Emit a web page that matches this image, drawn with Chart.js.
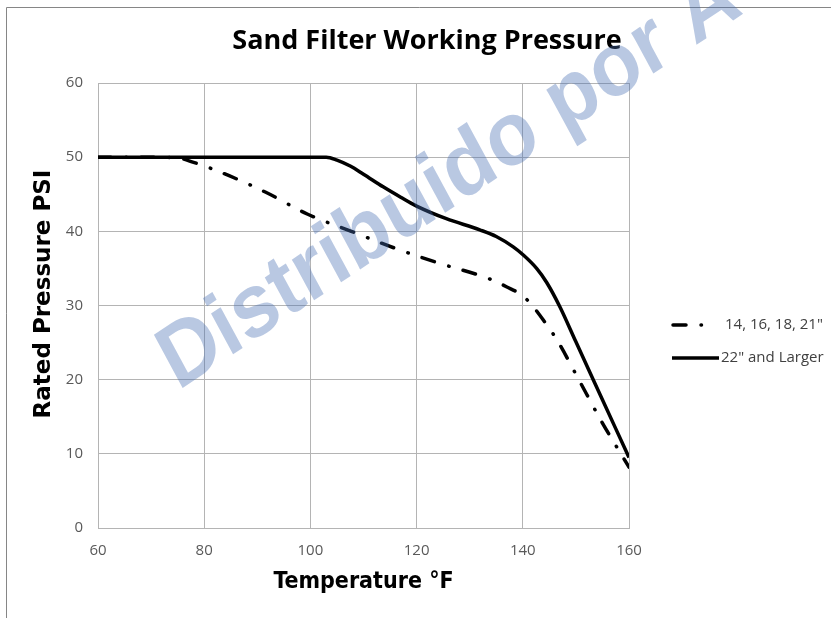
<!DOCTYPE html>
<html lang="en">
<head>
<meta charset="UTF-8">
<title>Sand Filter Working Pressure</title>
<script src="https://cdn.jsdelivr.net/npm/chart.js"></script>
<style>
  body { margin: 0; background: #fff; }
  #box { width: 831px; height: 618px; }
</style>
</head>
<body>
<div id="box"><canvas id="grafico" width="831" height="618"></canvas></div>
<script>
// 14, 16, 18, 21" filters (dash-dot line)
var smallTemps = [60, 70, 75, 78, 83, 91.5, 99.5, 107.7, 116, 124.7, 133.3, 137, 140, 142, 144, 146.4, 150.4, 154.8, 160];
var smallPsi   = [50, 50, 49.9, 49.3, 48.0, 45.3, 42.3, 40.0, 37.7, 35.6, 33.7, 32.5, 31.3, 29.8, 27.9, 25.4, 20.2, 14.4, 8.2];

// 22" and larger (solid line)
var largeTemps = [60, 100, 103, 105, 107.5, 110, 113.7, 117, 120, 125.6, 131.9, 135, 138.2, 140.1, 142.6, 144.5, 147, 150, 155, 160];
var largePsi   = [50, 50, 50, 49.6, 48.8, 47.7, 46.0, 44.6, 43.4, 41.7, 40.2, 39.3, 37.9, 36.8, 35.0, 33.1, 29.8, 25.1, 17.3, 9.5];

var seriesNames = ['14, 16, 18, 21"', '22" and Larger'];
var xTicks = [60, 80, 100, 120, 140, 160];
var yTicks = [0, 10, 20, 30, 40, 50, 60];

var dashDot = [13, 15, 0.5, 14.5];

function pontos(xs, ys) {
    return xs.map(function (x, i) { return { x: x, y: ys[i] }; });
}

Chart.defaults.font.family = "'Open Sans', sans-serif";

// frame, titles, watermark and legend drawn by hand
var extras = {
    id: 'extras',
    beforeDraw: function (chart) {
        var ctx = chart.ctx;
        ctx.save();
        ctx.fillStyle = '#ffffff';
        ctx.fillRect(0, 0, chart.width, chart.height);
        ctx.strokeStyle = '#868686';
        ctx.lineWidth = 1;
        ctx.beginPath();
        ctx.moveTo(6.5, chart.height + 2);
        ctx.lineTo(6.5, 7.5);
        ctx.lineTo(chart.width + 2, 7.5);
        ctx.stroke();

        ctx.fillStyle = '#000000';
        ctx.font = "bold 27px 'Open Sans', sans-serif";
        ctx.textAlign = 'center';
        ctx.textBaseline = 'middle';
        ctx.fillText('Sand Filter Working Pressure', 427, 41);

        // y axis title
        ctx.translate(44, 294);
        ctx.rotate(-Math.PI / 2);
        ctx.font = "bold 23px 'DejaVu Sans', sans-serif";
        ctx.fillText('Rated Pressure PSI', 0, 0);
        ctx.restore();
    },
    afterDraw: function (chart) {
        var ctx = chart.ctx;
        ctx.save();

        // legend
        var lx = 673, rows = [325, 358];
        ctx.strokeStyle = '#000';
        ctx.lineWidth = 3.5;
        ctx.lineCap = 'round';
        ctx.setLineDash(dashDot);
        ctx.beginPath();
        ctx.moveTo(lx, rows[0]);
        ctx.lineTo(lx + 32, rows[0]);
        ctx.stroke();
        ctx.setLineDash([]);
        ctx.lineCap = 'butt';
        ctx.beginPath();
        ctx.moveTo(lx - 1, rows[1]);
        ctx.lineTo(lx + 46, rows[1]);
        ctx.stroke();

        ctx.fillStyle = '#404040';
        ctx.font = "15px 'Open Sans', sans-serif";
        ctx.textAlign = 'left';
        ctx.textBaseline = 'middle';
        ctx.fillText(seriesNames[0], 725, rows[0]);
        ctx.fillText(seriesNames[1], 721, rows[1]);

        // watermark
        ctx.translate(178, 391);
        ctx.scale(0.9, 1);
        ctx.rotate(-31 * Math.PI / 180);
        ctx.font = "bold 90px 'Liberation Sans', Arial, sans-serif";
        ctx.fillStyle = 'rgba(70, 110, 180, 0.38)';
        ctx.textAlign = 'left';
        ctx.textBaseline = 'alphabetic';
        ctx.fillText('Distribuido por A', 0, 0);
        ctx.restore();
    }
};

var gradeCor = '#b4b4b4';
var textoCor = '#595959';

new Chart(document.getElementById('grafico'), {
    type: 'line',
    data: {
        datasets: [{
            label: seriesNames[1],
            data: pontos(largeTemps, largePsi),
            borderColor: '#000000',
            borderWidth: 3.5,
            pointRadius: 0,
            cubicInterpolationMode: 'monotone',
            fill: false
        }, {
            label: seriesNames[0],
            data: pontos(smallTemps, smallPsi),
            borderColor: '#000000',
            borderWidth: 3.5,
            borderDash: dashDot,
            borderCapStyle: 'round',
            pointRadius: 0,
            cubicInterpolationMode: 'monotone',
            fill: false
        }]
    },
    options: {
        responsive: false,
        animation: false,
        devicePixelRatio: 1,
        layout: { padding: { top: 83, right: 202, left: 0, bottom: 0 } },
        plugins: {
            legend: { display: false },
            tooltip: { enabled: false }
        },
        scales: {
            x: {
                type: 'linear',
                min: 60,
                max: 160,
                afterBuildTicks: function (scale) {
                    scale.ticks = xTicks.map(function (v) { return { value: v }; });
                },
                afterFit: function (scale) { scale.height = 90; },
                ticks: { color: textoCor, font: { size: 15 }, padding: 14 },
                grid: { color: gradeCor, drawTicks: false },
                border: { color: gradeCor },
                title: {
                    display: true,
                    text: 'Temperature °F',
                    color: '#000',
                    font: { family: "'DejaVu Sans Condensed', 'DejaVu Sans', sans-serif", size: 23, weight: 'bold' },
                    padding: { top: 0, bottom: 22 }
                }
            },
            y: {
                min: 0,
                max: 60,
                afterBuildTicks: function (scale) {
                    scale.ticks = yTicks.map(function (v) { return { value: v }; });
                },
                afterFit: function (scale) { scale.width = 98; },
                ticks: { color: textoCor, font: { size: 15 }, padding: 15 },
                grid: { color: gradeCor, drawTicks: false },
                border: { color: gradeCor }
            }
        }
    },
    plugins: [extras]
});
</script>
</body>
</html>
